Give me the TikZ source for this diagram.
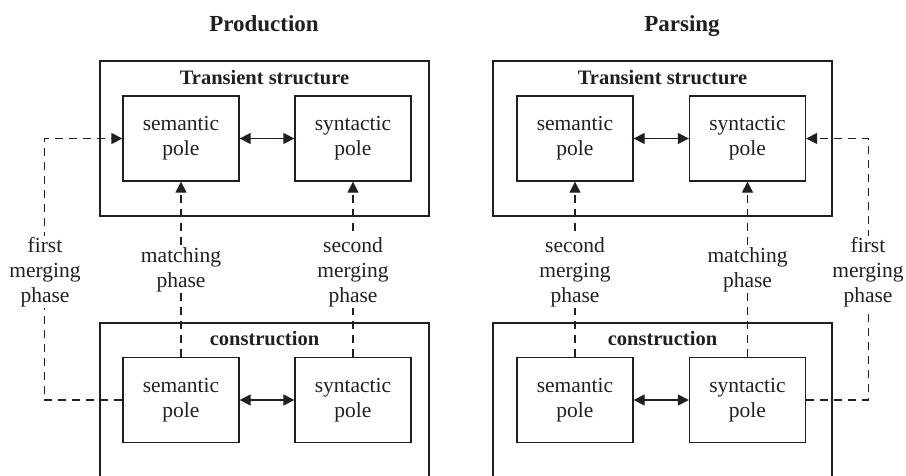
\documentclass[tikz,border=0pt]{standalone}
\usepackage{fontspec}
\setmainfont{Liberation Serif}
\usetikzlibrary{arrows.meta}
\definecolor{ink}{HTML}{231F20}
\begin{document}
\begin{tikzpicture}[x=1pt,y=-1pt,
  every node/.style={text=ink, font=\fontsize{21.5}{25}\selectfont},
  pole/.style={draw=ink, line width=1.3pt, minimum width=116pt, minimum height=85pt, align=center, inner sep=0pt},
  container/.style={draw=ink, line width=1.3pt, inner sep=0pt},
  heading/.style={font=\fontsize{20.5}{25}\selectfont\bfseries, anchor=base},
  title/.style={font=\fontsize{23}{25}\selectfont\bfseries, anchor=base},
  dashln/.style={draw=ink, line width=1.3pt, dash pattern=on 8pt off 6pt},
  tip/.style={-{Triangle[length=11pt,width=11pt]}},
  dbl/.style={draw=ink, line width=1.3pt, {Triangle[length=11pt,width=11pt]}-{Triangle[length=11pt,width=11pt]}},
  lbl/.style={fill=white, align=center, inner sep=1pt}
]
\useasboundingbox (0,0) rectangle (906,475);
\clip (0,0) rectangle (906,475);
\fill[white] (0,0) rectangle (906,475);

% ---------------- Production ----------------
\node[title] (tprod) at (264,31) {Production};
\node[container, minimum width=329pt, minimum height=155pt] (ptrans) at (264.5,138.5) {};
\node[heading] (ptranslbl) at (264.5,84) {Transient structure};
\node[pole] (psem) at (181,138.5) {semantic\\pole};
\node[pole] (psyn) at (353,138.5) {syntactic\\pole};
\draw[dbl] (psem) -- (psyn);

\node[container, minimum width=329pt, minimum height=177pt] (pcons) at (264.5,411.5) {};
\node[heading] (pconslbl) at (264.5,345) {construction};
\node[pole] (pcsem) at (181,400) {semantic\\pole};
\node[pole] (pcsyn) at (353,400) {syntactic\\pole};
\draw[dbl] (pcsem) -- (pcsyn);

\draw[dashln, tip] (pcsem.north) -- (psem.south);
\draw[dashln, tip] (pcsyn.north) -- (psyn.south);
\draw[dashln, tip] (pcsem.west) -- ++(-78,0) |- (psem.west);
\node[lbl] (pmatch) at (181,270) {matching\\phase};
\node[lbl] (psecond) at (353,272) {second\\merging\\phase};
\node[lbl] (pfirst) at (45,272) {first\\merging\\phase};

% ---------------- Parsing ----------------
\node[title] (tpars) at (682,31) {Parsing};
\node[container, minimum width=339pt, minimum height=155pt] (rtrans) at (662.5,138.5) {};
\node[heading] (rtranslbl) at (662.5,84) {Transient structure};
\node[pole] (rsem) at (575,138.5) {semantic\\pole};
\node[pole] (rsyn) at (747.5,138.5) {syntactic\\pole};
\draw[dbl] (rsem) -- (rsyn);

\node[container, minimum width=339pt, minimum height=177pt] (rcons) at (662.5,411.5) {};
\node[heading] (rconslbl) at (662.5,345) {construction};
\node[pole] (rcsem) at (575,400) {semantic\\pole};
\node[pole] (rcsyn) at (747.5,400) {syntactic\\pole};
\draw[dbl] (rcsem) -- (rcsyn);

\draw[dashln, tip] (rcsem.north) -- (rsem.south);
\draw[dashln, tip] (rcsyn.north) -- (rsyn.south);
\draw[dashln, tip] (rcsyn.east) -- ++(62,0) |- (rsyn.east);
\node[lbl] (rsecond) at (575,272) {second\\merging\\phase};
\node[lbl] (rmatch) at (747.5,270) {matching\\phase};
\node[lbl] (rfirst) at (868,272) {first\\merging\\phase};
\end{tikzpicture}
\end{document}
